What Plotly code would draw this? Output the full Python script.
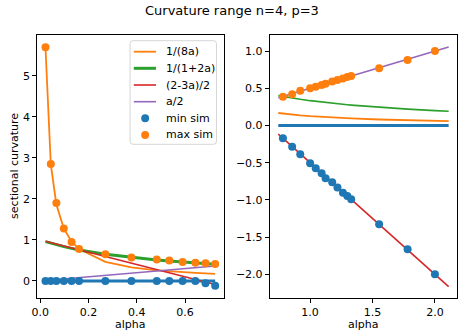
import plotly.graph_objects as go

W, H = 458, 332

# ---- data ----
alpha_left = [0.022, 0.044, 0.067, 0.098, 0.130, 0.161, 0.270, 0.378, 0.483, 0.535, 0.590, 0.643, 0.685, 0.725]
min_sim_left = [0, 0, 0, 0, 0, 0, 0, 0, 0, 0, 0, 0, -0.06, -0.12]
max_sim_left = [5.70, 2.85, 1.90, 1.28, 0.95, 0.78, 0.65, 0.57, 0.52, 0.50, 0.46, 0.44, 0.43, 0.41]

alpha_right = [0.782, 0.856, 0.921, 1.000, 1.045, 1.092, 1.124, 1.177, 1.219, 1.263, 1.298, 1.329, 1.553, 1.781, 2.000]
min_sim_right = [-0.172, -0.285, -0.388, -0.508, -0.576, -0.643, -0.710, -0.764, -0.835, -0.903, -0.948, -0.992, -1.328, -1.664, -2.000]
max_sim_right = [0.387, 0.42, 0.468, 0.50, 0.52, 0.545, 0.56, 0.59, 0.61, 0.63, 0.65, 0.665, 0.77, 0.88, 1.00]
line_alpha_right = [0.745] + alpha_right + [2.110]

left_xticks = [0.0, 0.2, 0.4, 0.6]
left_yticks = [0, 1, 2, 3, 4, 5]
right_xticks = [1.0, 1.5, 2.0]
right_yticks = [-2.0, -1.5, -1.0, -0.5, 0.0, 0.5, 1.0]

legend_labels = ["1/(8a)", "1/(1+2a)", "(2-3a)/2", "a/2", "min sim", "max sim"]

C0, C1, C2, C3, C4 = "#1f77b4", "#ff7f0e", "#2ca02c", "#d62728", "#9467bd"
FONT = "DejaVu Sans"
LINE_W = {"1/(8a)": 1.8, "1/(1+2a)": 3, "(2-3a)/2": 1.6, "a/2": 1.6}
COLORS = {"1/(8a)": C1, "1/(1+2a)": C2, "(2-3a)/2": C3, "a/2": C4, "min sim": C0, "max sim": C1}


def curves(a_list):
    zero = [0.0 for _ in a_list]
    inv8 = [1.0 / (8.0 * a) for a in a_list]
    inv12 = [1.0 / (1.0 + 2.0 * a) for a in a_list]
    lin = [(2.0 - 3.0 * a) / 2.0 for a in a_list]
    half = [a / 2.0 for a in a_list]
    return zero, inv8, inv12, lin, half


fig = go.Figure()


def add_panel(xa, ya, a_lines, a_pts, mins, maxs, green_w):
    zero, inv8, inv12, lin, half = curves(a_lines)
    common = dict(xaxis=xa, yaxis=ya, mode="lines", showlegend=False)
    fig.add_trace(go.Scatter(x=a_lines, y=zero, line=dict(color=C0, width=3), **common))
    fig.add_trace(go.Scatter(x=a_lines, y=inv8, name="1/(8a)", line=dict(color=C1, width=1.8), **common))
    fig.add_trace(go.Scatter(x=a_lines, y=inv12, name="1/(1+2a)", line=dict(color=C2, width=green_w), **common))
    fig.add_trace(go.Scatter(x=a_lines, y=lin, name="(2-3a)/2", line=dict(color=C3, width=1.6), **common))
    fig.add_trace(go.Scatter(x=a_lines, y=half, name="a/2", line=dict(color=C4, width=1.6), **common))
    fig.add_trace(go.Scatter(x=a_pts, y=mins, name="min sim", mode="markers", xaxis=xa, yaxis=ya,
                             marker=dict(color=C0, size=8), showlegend=False))
    fig.add_trace(go.Scatter(x=a_pts, y=maxs, name="max sim", mode="markers", xaxis=xa, yaxis=ya,
                             marker=dict(color=C1, size=8), showlegend=False))


add_panel("x", "y", alpha_left, alpha_left, min_sim_left, max_sim_left, 3)
add_panel("x2", "y2", line_alpha_right, alpha_right, min_sim_right, max_sim_right, 1.6)

ax_common = dict(showline=True, linecolor="black", linewidth=1, mirror=True, ticks="outside",
                 ticklen=4, tickwidth=1, tickcolor="black", showgrid=False, zeroline=False,
                 tickfont=dict(family=FONT, size=11, color="black"), fixedrange=True)

ytop, ybot = 1 - 35 / H, 1 - 297.7 / H


def px(x):
    return x / W


def py(y):
    return 1 - y / H


# ---- hand-built legend (matplotlib style) ----
shapes = []
annotations = []
lx0, lx1, ly0, ly1, r = 125.7, 213.3, 40.7, 144.3, 3
path = (f"M {px(lx0 + r)},{py(ly0)} L {px(lx1 - r)},{py(ly0)} Q {px(lx1)},{py(ly0)} {px(lx1)},{py(ly0 + r)} "
        f"L {px(lx1)},{py(ly1 - r)} Q {px(lx1)},{py(ly1)} {px(lx1 - r)},{py(ly1)} "
        f"L {px(lx0 + r)},{py(ly1)} Q {px(lx0)},{py(ly1)} {px(lx0)},{py(ly1 - r)} "
        f"L {px(lx0)},{py(ly0 + r)} Q {px(lx0)},{py(ly0)} {px(lx0 + r)},{py(ly0)} Z")
shapes.append(dict(type="path", path=path, xref="paper", yref="paper", layer="above",
                   fillcolor="rgba(255,255,255,0.8)", line=dict(color="rgba(204,204,204,0.8)", width=1)))
entry_y = [51.7, 68.3, 85.0, 101.7, 118.2, 135.0]
for lab, ey in zip(legend_labels, entry_y):
    if lab in LINE_W:
        shapes.append(dict(type="line", xref="paper", yref="paper", layer="above",
                           x0=px(129.5), x1=px(152), y0=py(ey), y1=py(ey),
                           line=dict(color=COLORS[lab], width=LINE_W[lab])))
    else:
        shapes.append(dict(type="circle", xref="paper", yref="paper", layer="above",
                           x0=px(141 - 4), x1=px(141 + 4), y0=py(ey - 4), y1=py(ey + 4),
                           fillcolor=COLORS[lab], line=dict(width=0)))
    annotations.append(dict(text=lab, x=px(160.5), y=py(ey), xref="paper", yref="paper",
                            showarrow=False, xanchor="left", yanchor="middle",
                            font=dict(size=11, family=FONT, color="black")))

annotations += [
    dict(text="Curvature range n=4, p=3", x=px(229), y=py(10), xref="paper", yref="paper",
         showarrow=False, xanchor="center", yanchor="middle", font=dict(size=13, family=FONT)),
    dict(text="alpha", x=px(126.4), y=py(332), xref="paper", yref="paper", borderpad=0,
         showarrow=False, xanchor="center", yanchor="bottom", font=dict(size=11, family=FONT)),
    dict(text="alpha", x=px(362), y=py(332), xref="paper", yref="paper", borderpad=0,
         showarrow=False, xanchor="center", yanchor="bottom", font=dict(size=11, family=FONT)),
    dict(text="sectional curvature", x=px(8), y=py(166), xref="paper", yref="paper",
         showarrow=False, xanchor="center", yanchor="middle", textangle=-90, font=dict(size=11, family=FONT)),
]

fig.update_layout(
    width=W, height=H, margin=dict(l=0, r=0, t=0, b=0),
    paper_bgcolor="white", plot_bgcolor="white",
    font=dict(family=FONT, size=11, color="black"),
    xaxis=dict(domain=[31.7 / W, 221 / W], range=[-0.012, 0.762], tickvals=left_xticks,
               ticktext=[f"{v:.1f}" for v in left_xticks], anchor="y", **ax_common),
    yaxis=dict(domain=[ybot, ytop], range=[-0.41, 6.0], tickvals=left_yticks,
               ticktext=[str(v) for v in left_yticks], anchor="x", **ax_common),
    xaxis2=dict(domain=[267.3 / W, 457 / W], range=[0.677, 2.177], tickvals=right_xticks,
                ticktext=[f"{v:.1f}" for v in right_xticks], anchor="y2", **ax_common),
    yaxis2=dict(domain=[ybot, ytop], range=[-2.315, 1.216], tickvals=right_yticks,
                ticktext=[f"{v:.1f}".replace("-", "\u2212") for v in right_yticks], anchor="x2", **ax_common),
    showlegend=False,
    shapes=shapes,
    annotations=annotations,
)

fig.write_html("out.html", config={"displayModeBar": False},
               post_script="document.body.style.margin='0px';document.body.style.overflow='hidden';")
